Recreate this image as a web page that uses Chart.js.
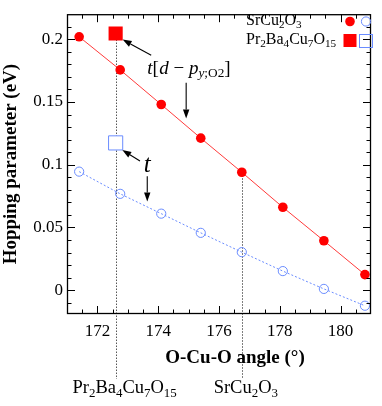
<!DOCTYPE html>
<html><head><meta charset="utf-8">
<script src="https://cdn.jsdelivr.net/npm/chart.js@4/dist/chart.umd.min.js"></script>
<style>html,body{margin:0;padding:0;background:#fff}#wrap{width:382px;height:406px}</style>
</head><body><div id="wrap"><canvas id="c" width="382" height="406"></canvas></div>
<script>
// ---- data ----
const angles = [171.4, 172.75, 174.1, 175.4, 176.75, 178.1, 179.45, 180.8];
const srTdp  = [0.202, 0.1756, 0.148, 0.1212, 0.094, 0.0661, 0.0394, 0.0124];
const srT    = [0.0945, 0.0768, 0.061, 0.0457, 0.0303, 0.0152, 0.001, -0.0124];
const prAngle = [172.6];
const prTdp   = [0.2046];
const prT     = [0.1174];
const xTicks = [172, 174, 176, 178, 180];
const yTicks = [0, 0.05, 0.1, 0.15, 0.2];
const seriesNames = ['SrCu2O3', 'Pr2Ba4Cu7O15'];
const markerAngles = [172.6, 176.75];
const markerLabels = ['Pr2Ba4Cu7O15', 'SrCu2O3'];

// ---- styling / annotation config ----
const FONT = "Liberation Serif";
Chart.defaults.font.family = FONT;
Chart.defaults.color = '#000';
const RED = '#ff0000', REDLINE = '#ff3a3a', BLUE = '#6a8cff';
const annotArrows = [
  {from:[173.77,0.1872], to:[172.83,0.1998]},
  {from:[174.92,0.1654], to:[174.92,0.1368]},
  {from:[173.40,0.1029], to:[172.82,0.1118]},
  {from:[173.64,0.0909], to:[173.64,0.0706]}
];

function parseChem(s){
  const parts=[];
  s.replace(/([A-Za-z]+)(\d*)/g,(m,a,d)=>{parts.push({t:a}); if(d) parts.push({t:d,sub:true}); return m;});
  return parts;
}
function fontStr(p,size){
  const sz = p.sub ? size*0.7 : size;
  return (p.italic?'italic ':'') + (p.bold?'bold ':'') + sz.toFixed(2) + 'px "' + FONT + '", serif';
}
function drawRich(ctx, parts, x, y, size, align){
  ctx.save(); ctx.textBaseline='alphabetic'; ctx.textAlign='left'; ctx.fillStyle='#000';
  let w=0;
  for(const p of parts){ ctx.font=fontStr(p,size); w+=ctx.measureText(p.t).width + (p.kern||0)*size; }
  let cx = align==='center' ? x-w/2 : (align==='right' ? x-w : x);
  for(const p of parts){
    ctx.font=fontStr(p,size);
    ctx.fillText(p.t, cx, y + (p.sub ? size*0.2 : 0));
    cx += ctx.measureText(p.t).width + (p.kern||0)*size;
  }
  ctx.restore(); return w;
}
function arrow(ctx,x1,y1,x2,y2){
  const a=Math.atan2(y2-y1,x2-x1), L=9, W=3.2;
  const bx=x2-L*Math.cos(a), by=y2-L*Math.sin(a);
  ctx.save(); ctx.strokeStyle='#000'; ctx.fillStyle='#000'; ctx.lineWidth=1.1;
  ctx.beginPath(); ctx.moveTo(x1,y1); ctx.lineTo(bx,by); ctx.stroke();
  ctx.beginPath(); ctx.moveTo(x2,y2);
  ctx.lineTo(bx+W*Math.sin(a), by-W*Math.cos(a));
  ctx.lineTo(bx-W*Math.sin(a), by+W*Math.cos(a));
  ctx.closePath(); ctx.fill(); ctx.restore();
}

const extras = {
  id:'extras',
  beforeDatasetsDraw(chart){
    const {ctx, scales:{x,y}, chartArea:ca} = chart;
    ctx.save(); ctx.strokeStyle='#555'; ctx.lineWidth=1; ctx.setLineDash([1.5,1.5]);
    const tops = [prTdp[0], srTdp[angles.indexOf(markerAngles[1])]];
    markerAngles.forEach((a,i)=>{
      const px=Math.round(x.getPixelForValue(a))+0.5;
      ctx.beginPath(); ctx.moveTo(px, y.getPixelForValue(tops[i])); ctx.lineTo(px, ca.bottom+65); ctx.stroke();
    });
    ctx.restore();
  },
  afterDraw(chart){
    const {ctx, scales:{x,y}, chartArea:ca} = chart;
    // frame
    ctx.save(); ctx.strokeStyle='#000'; ctx.lineWidth=1.3;
    ctx.strokeRect(ca.left+0.5, ca.top+0.5, ca.right-ca.left-1, ca.bottom-ca.top-1);
    ctx.lineWidth=1;
    ctx.beginPath();
    for(let i=-1;i<=21;i++){
      const v=i/100, py=Math.round(y.getPixelForValue(v))+0.5;
      if(py<ca.top||py>ca.bottom) continue;
      const L = (i%5===0)?8:4.5;
      ctx.moveTo(ca.left,py); ctx.lineTo(ca.left+L,py);
      ctx.moveTo(ca.right,py); ctx.lineTo(ca.right-L,py);
    }
    for(let i=343;i<=361;i++){
      const v=i/2, px=Math.round(x.getPixelForValue(v))+0.5;
      const L = (v%2===0)?8:4.5;
      ctx.moveTo(px,ca.bottom); ctx.lineTo(px,ca.bottom-L);
      ctx.moveTo(px,ca.top); ctx.lineTo(px,ca.top+L);
    }
    ctx.stroke(); ctx.restore();

    // arrows
    annotArrows.forEach(a=>arrow(ctx, x.getPixelForValue(a.from[0]), y.getPixelForValue(a.from[1]),
                                      x.getPixelForValue(a.to[0]), y.getPixelForValue(a.to[1])));
    // annotation texts
    drawRich(ctx, [{t:'t',italic:true},{t:'[',kern:0.02},{t:'d',italic:true},{t:' \u2212 '},{t:'p',italic:true},
                   {t:'y',italic:true,sub:true},{t:';O2',sub:true},{t:']'}],
             x.getPixelForValue(173.64), y.getPixelForValue(0.1726), 19, 'left');
    drawRich(ctx, [{t:'t',italic:true}], x.getPixelForValue(173.64), y.getPixelForValue(0.0942), 25, 'center');

    // legend
    drawRich(ctx, parseChem(seriesNames[0]), 246, 25, 16, 'left');
    drawRich(ctx, parseChem(seriesNames[1]), 246, 44, 16, 'left');
    ctx.save();
    ctx.fillStyle=RED; ctx.beginPath(); ctx.arc(350,21.5,4.8,0,Math.PI*2); ctx.fill();
    ctx.strokeStyle=BLUE; ctx.lineWidth=1; ctx.beginPath(); ctx.arc(366,21.5,4.6,0,Math.PI*2); ctx.stroke();
    ctx.fillRect(343.5,34,13,13);
    ctx.strokeRect(359.5,34.5,13,13);
    ctx.restore();

    // marker labels below axis
    const offs=[9,4];
    markerAngles.forEach((a,i)=>{
      drawRich(ctx, parseChem(markerLabels[i]), x.getPixelForValue(a)+offs[i], 393, 18.5, 'center');
    });
    // x title
    drawRich(ctx, [{t:'O-Cu-O angle (\u00B0)',bold:true}], 235, 363, 19, 'center');
  }
};

new Chart(document.getElementById('c'), {
  type:'scatter',
  data:{datasets:[
    {label:'SrCu2O3 t[d-p]', data:angles.map((a,i)=>({x:a,y:srTdp[i]})), showLine:true,
     borderColor:REDLINE, borderWidth:1, pointBackgroundColor:RED, pointBorderColor:RED, pointRadius:4.8, pointBorderWidth:0},
    {label:'SrCu2O3 t', data:angles.map((a,i)=>({x:a,y:srT[i]})), showLine:true,
     borderColor:BLUE, borderWidth:1, borderDash:[2,2], pointBackgroundColor:'rgba(0,0,0,0)', pointBorderColor:BLUE,
     pointRadius:4.6, pointBorderWidth:1},
    {label:'Pr2Ba4Cu7O15 t[d-p]', data:prAngle.map((a,i)=>({x:a,y:prTdp[i]})), pointStyle:'rect',
     pointBackgroundColor:RED, pointBorderColor:RED, pointRadius:10, pointBorderWidth:0},
    {label:'Pr2Ba4Cu7O15 t', data:prAngle.map((a,i)=>({x:a,y:prT[i]})), pointStyle:'rect',
     pointBackgroundColor:'#fff', pointBorderColor:BLUE, pointRadius:10, pointBorderWidth:1}
  ]},
  options:{
    responsive:false, animation:false, devicePixelRatio:1,
    layout:{padding:{top:1,right:1,left:0,bottom:0}},
    plugins:{legend:{display:false}, tooltip:{enabled:false}},
    scales:{
      x:{type:'linear', min:171, max:181,
         afterBuildTicks:s=>{s.ticks=xTicks.map(v=>({value:v}));},
         afterFit:s=>{s.height=92;},
         grid:{display:false, drawTicks:false}, border:{display:false},
         ticks:{font:{family:FONT, size:17}, color:'#000', padding:7, maxRotation:0, autoSkip:false, callback:v=>String(v)}},
      y:{type:'linear', min:-0.019, max:0.22,
         afterBuildTicks:s=>{s.ticks=yTicks.map(v=>({value:v}));},
         afterFit:s=>{s.width=67;},
         grid:{display:false, drawTicks:false}, border:{display:false},
         ticks:{font:{family:FONT, size:17}, color:'#000', padding:4, autoSkip:false, callback:v=>String(v)},
         title:{display:true, text:'Hopping parameter (eV)', color:'#000', font:{family:FONT,size:19,weight:'bold'}, padding:0}}
    }
  },
  plugins:[extras]
});
</script></body></html>
